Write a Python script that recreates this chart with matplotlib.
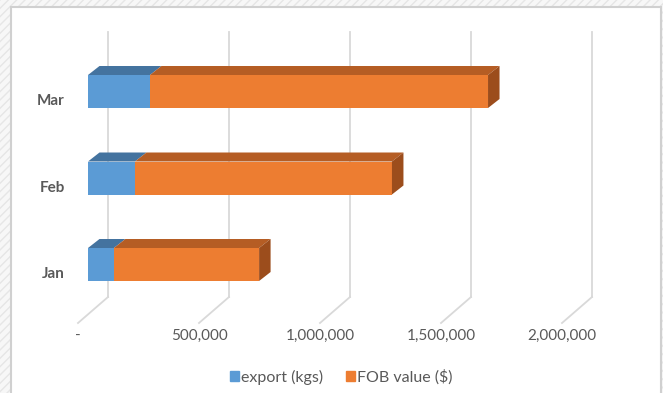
import matplotlib
matplotlib.use("Agg")
import matplotlib.pyplot as plt
from matplotlib.patches import Polygon, Rectangle, Patch

months = ["Jan", "Feb", "Mar"]
export_kgs = [107000, 194000, 256000]
fob_value = [600000, 1062000, 1397000]
ticks = [0, 500000, 1000000, 1500000, 2000000]
tick_labels = ["-", "500,000", "1,000,000", "1,500,000", "2,000,000"]

BLUE, BLUE_TOP = "#5B9BD5", "#44739F"
ORANGE, ORANGE_TOP, ORANGE_SIDE = "#ED7D31", "#B55D24", "#9C4D1C"
GRID = "#D9D9D9"
TXT = "#595959"

plt.rcParams["font.family"] = ["Lato", "DejaVu Sans"]

W, H = 663, 393
fig = plt.figure(figsize=(W / 100, H / 100), dpi=100)
fig.patch.set_facecolor("#F7F7F7")
# hatched selection border round the chart area
fig.patches.append(Rectangle((0, 0), 1, 1, transform=fig.transFigure,
                             facecolor="#F7F7F7", edgecolor="#E6E6E6", hatch="////",
                             linewidth=0, zorder=-2))
fig.patches.append(Rectangle((11 / W, -0.01), 650 / W, (H - 7) / H + 0.01,
                             transform=fig.transFigure, facecolor="white",
                             edgecolor="#D0D0D0", linewidth=1.5, zorder=-1))

ax = fig.add_axes([0, 0, 1, 1])
ax.set_axis_off()
ax.patch.set_alpha(0)

# pixel -> data scale
kx = 500000 / 121.0     # value units per pixel
ky = 1 / 86.5           # category units per pixel
x0px, y0px = 88, 264.5  # front face of value 0, centre of Jan
ax.set_xlim(-x0px * kx, (W - x0px) * kx)
ax.set_ylim((y0px - H) * ky, y0px * ky)

bar_h = 33 * ky
dx, dy = 11.5 * kx, 9 * ky          # bar depth
back_dx = 20 * kx                   # back wall offset
front_dx = -10 * kx                 # front floor edge
y_floor_back = -(297 - y0px) * ky
y_floor_front = -(323 - y0px) * ky
y_top = (y0px - 32) * ky

# back wall gridlines and floor lines
for t in ticks:
    ax.plot([t + back_dx] * 2, [y_floor_back, y_top], color=GRID, lw=1.3, zorder=2)
    ax.plot([t + back_dx, t + front_dx], [y_floor_back, y_floor_front],
            color=GRID, lw=1.3, zorder=2)

ypos = list(range(len(months)))
ax.barh(ypos, export_kgs, height=bar_h, color=BLUE, zorder=5)
ax.barh(ypos, fob_value, left=export_kgs, height=bar_h, color=ORANGE, zorder=5)

for i in ypos:
    yt = i + bar_h / 2
    yb = i - bar_h / 2
    segs = [(0, export_kgs[i], BLUE_TOP),
            (export_kgs[i], export_kgs[i] + fob_value[i], ORANGE_TOP)]
    for a, b, c in segs:
        ax.add_patch(Polygon([(a, yt), (b, yt), (b + dx, yt + dy), (a + dx, yt + dy)],
                             closed=True, facecolor=c, edgecolor="none", zorder=6))
    end = export_kgs[i] + fob_value[i]
    ax.add_patch(Polygon([(end, yb), (end, yt), (end + dx, yt + dy), (end + dx, yb + dy)],
                         closed=True, facecolor=ORANGE_SIDE, edgecolor="none", zorder=6))
    ax.text(-23 * kx, i - 9.5 * ky, months[i], ha="right", va="center",
            fontsize=11, color=TXT, fontweight="bold")

y_lab = -(336 - y0px) * ky
for t, lab in zip(ticks, tick_labels):
    ax.text(t + front_dx, y_lab, lab, ha="center", va="center", fontsize=11, color=TXT)

handles = [Patch(color=BLUE, label="export (kgs)"), Patch(color=ORANGE, label="FOB value ($)")]
fig.legend(handles=handles, loc="center", bbox_to_anchor=(0.515, (H - 377) / H), ncol=2,
           frameon=False, fontsize=11.5, handlelength=0.55, handleheight=0.55,
           handletextpad=0.15, columnspacing=1.4, labelcolor=TXT)

fig.savefig("out.png", dpi=100, facecolor=fig.get_facecolor())
